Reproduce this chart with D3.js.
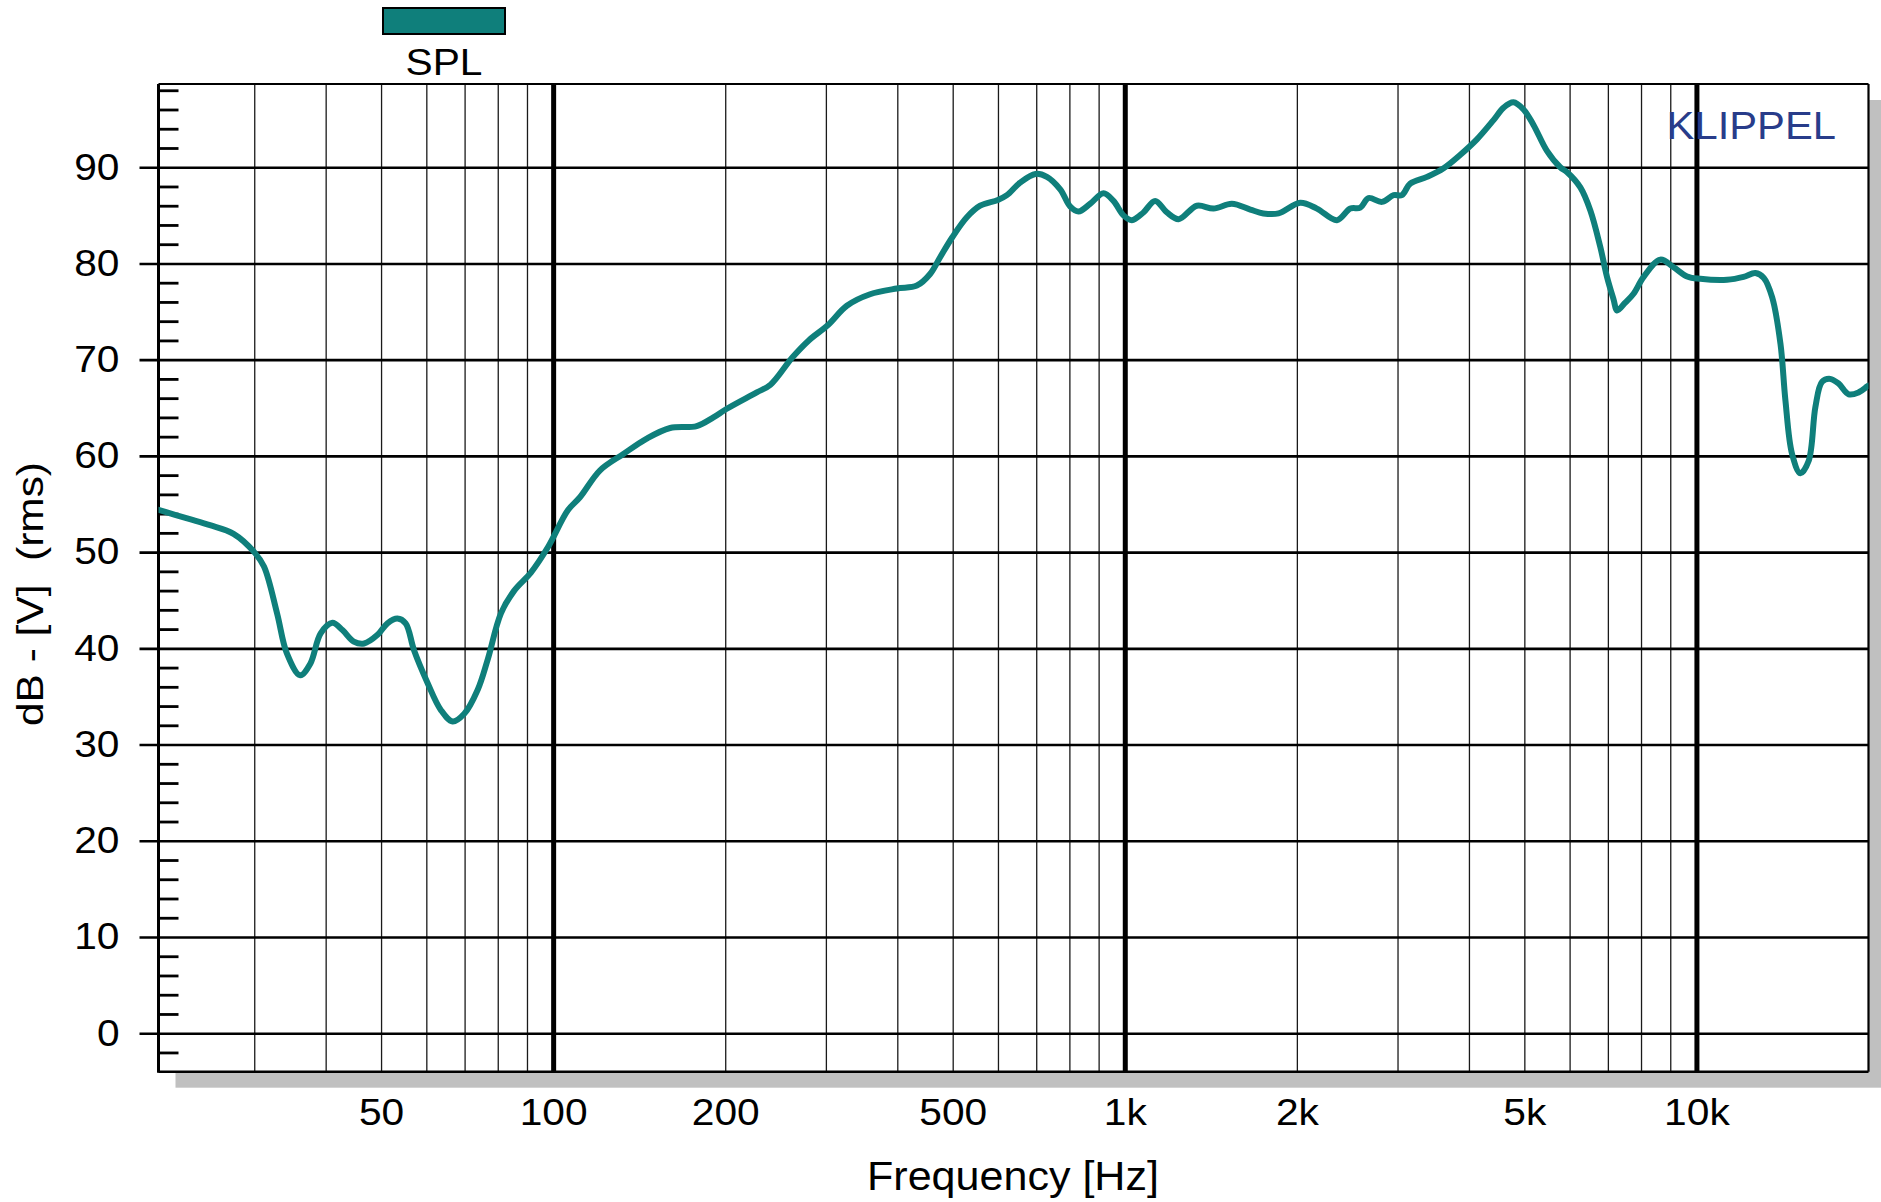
<!DOCTYPE html>
<html><head><meta charset="utf-8">
<script src="https://cdn.jsdelivr.net/npm/d3@7"></script>
<style>html,body{margin:0;padding:0;background:#fff;} svg{display:block;font-family:"Liberation Sans",Arial,Helvetica,sans-serif;}</style>
</head><body><svg id="c" width="1881" height="1202"></svg>
<script>
// ---- data ----
const freq = [20.4,22.9,25.1,27.6,30.0,31.2,32.9,34.2,36.1,37.6,39.2,41.1,42.8,44.8,46.7,49.3,51.3,53.4,55.2,57.1,60.3,63.6,66.7,69.9,73.8,76.8,81.0,85.5,91.5,97.9,106.1,111.4,120.8,132.7,145.8,160.2,178.3,190.7,201.3,227.1,240,261.8,280,302.6,326.4,358.4,399.3,432.8,456.5,475.3,498.9,529.3,558.5,599.8,622,656,698,730.6,771,802.9,829.9,869.9,917.9,955.5,994.7,1029,1078,1130,1185,1242,1337,1430,1539,1658,1748,1858,2027,2168,2350,2480,2582,2669,2818,2953,3053,3157,3378,3612,3864,4130,4416,4600,4786,4984,5188,5477,5778,5935,6265,6523,6790,6976,7167,7263,7500,7763,8085,8648,9125,9632,10160,11316,12093,12680,13120,13565,14030,14310,14700,15200,15720,16150,16590,17150,17740,18470,19220,19880,20000];
const spl = [54.4,53.5,52.8,51.9,50.0,48.5,43.6,39.5,37.2,38.4,41.55,42.65,41.9,40.7,40.5,41.4,42.6,43.1,42.6,39.8,36.4,33.6,32.4,33.2,35.7,38.8,43.6,46.0,47.9,50.5,54.35,55.7,58.5,60.2,61.8,62.9,63.1,64.0,64.9,66.6,67.4,70.2,72.0,73.6,75.6,76.8,77.4,77.7,78.9,80.65,82.7,84.8,86.0,86.6,87.1,88.4,89.3,89.0,87.7,85.9,85.4,86.2,87.3,86.5,85.0,84.5,85.3,86.5,85.3,84.6,86.0,85.7,86.2,85.6,85.2,85.2,86.3,85.7,84.5,85.7,85.8,86.8,86.4,87.1,87.1,88.3,89.0,89.9,91.3,92.9,94.9,96.2,96.75,96.0,94.4,91.7,90.0,89.5,87.9,85.5,81.7,78.6,76.2,75.1,75.9,76.85,78.6,80.4,79.6,78.65,78.4,78.3,78.6,79.0,78.5,76.5,71.65,65.8,60.2,58.2,59.5,65.1,67.7,68.0,67.5,66.4,66.6,67.2,67.3];
const xTickValues = [50,100,200,500,1000,2000,5000,10000];
const xTickLabels = ["50","100","200","500","1k","2k","5k","10k"];
const xMinorGrid = [30,40,50,60,70,80,90,200,300,400,500,600,700,800,900,2000,3000,4000,5000,6000,7000,8000,9000];
const xMajorGrid = [100,1000,10000];
const yTickValues = [0,10,20,30,40,50,60,70,80,90];
const yMinorTicks = [-2,2,4,6,8,12,14,16,18,22,24,26,28,32,34,36,38,42,44,46,48,52,54,56,58,62,64,66,68,72,74,76,78,82,84,86,88,92,94,96,98];
const seriesName = "SPL";
const xTitle = "Frequency [Hz]";
const yTitle = "dB - [V]\u00a0\u00a0(rms)";
const brand = "KLIPPEL";

// ---- layout ----
const L=158.5, R=1868.5, T=84, B=1071.7;
const teal = "#0f7f7b";
const FONT = '"Liberation Sans",Arial,sans-serif';
const x = d3.scaleLog().domain([20.4,20000]).range([L,R]);
const y = d3.scaleLinear().domain([-4,98.65]).range([B,T]);
const svg = d3.select('#c');
svg.append('rect').attr('width',1881).attr('height',1202).attr('fill','#fff');

function stretch(sel,k){sel.each(function(){const w=this.getComputedTextLength();this.setAttribute('textLength',w*k);this.setAttribute('lengthAdjust','spacingAndGlyphs');});}

// shadow + plot bg
svg.append('rect').attr('x',L+17).attr('y',T+16).attr('width',R-L).attr('height',B-T).attr('fill','#c0c0c0');
svg.append('rect').attr('x',L).attr('y',T).attr('width',R-L).attr('height',B-T).attr('fill','#fff');

// vertical minor grid
const gx = svg.append('g').attr('transform',`translate(0,${B})`)
  .call(d3.axisBottom(x).tickValues(xMinorGrid).tickSize(-(B-T)).tickFormat(''));
gx.select('.domain').remove();
gx.selectAll('line').attr('stroke','#1a1a1a').attr('stroke-width',1.3);

// horizontal major grid + labels
const gy = svg.append('g').attr('transform',`translate(${L-19},0)`)
  .call(d3.axisLeft(y).tickValues(yTickValues).tickSizeInner(-(R-L+19)).tickSizeOuter(0).tickPadding(20));
gy.select('.domain').remove();
gy.selectAll('line').attr('stroke','#000').attr('stroke-width',2.6);
gy.selectAll('text').attr('font-size',37).attr('fill','#000').attr('font-family',FONT).call(stretch,1.1);

// bold decade lines
const gb = svg.append('g').attr('transform',`translate(0,${B})`)
  .call(d3.axisBottom(x).tickValues(xMajorGrid).tickSize(-(B-T)).tickFormat(''));
gb.select('.domain').remove();
gb.selectAll('line').attr('stroke','#000').attr('stroke-width',5);

// y minor ticks
const gm = svg.append('g').attr('transform',`translate(${L},0)`)
  .call(d3.axisLeft(y).tickValues(yMinorTicks).tickSizeInner(-20).tickSizeOuter(0).tickFormat(''));
gm.select('.domain').remove();
gm.selectAll('line').attr('stroke','#000').attr('stroke-width',2.8);

// x tick labels
const gl = svg.append('g').attr('transform',`translate(0,${B})`)
  .call(d3.axisBottom(x).tickValues(xTickValues).tickFormat((d,i)=>xTickLabels[i]).tickSize(0).tickPadding(27));
gl.select('.domain').remove();
gl.selectAll('text').attr('font-size',37).attr('fill','#000').attr('font-family',FONT).call(stretch,1.1);

// border
svg.append('line').attr('x1',L).attr('x2',R).attr('y1',T).attr('y2',T).attr('stroke','#000').attr('stroke-width',1.8);
svg.append('line').attr('x1',L).attr('x2',R).attr('y1',B).attr('y2',B).attr('stroke','#000').attr('stroke-width',2.5);
svg.append('line').attr('x1',R).attr('x2',R).attr('y1',T).attr('y2',B).attr('stroke','#000').attr('stroke-width',2.2);
svg.append('line').attr('x1',L).attr('x2',L).attr('y1',T).attr('y2',B+1).attr('stroke','#000').attr('stroke-width',3);

// curve
svg.append('clipPath').attr('id','pc').append('rect').attr('x',L).attr('y',T).attr('width',R-L).attr('height',B-T);
const data = freq.map((f,i)=>[f,spl[i]]);
svg.append('path').datum(data).attr('clip-path','url(#pc)')
  .attr('d',d3.line().x(d=>x(d[0])).y(d=>y(d[1])).curve(d3.curveCatmullRom.alpha(0.5)))
  .attr('fill','none').attr('stroke',teal).attr('stroke-width',6).attr('stroke-linejoin','round').attr('stroke-linecap','round');

// KLIPPEL
svg.append('text').attr('x',1836).attr('y',139).attr('text-anchor','end').attr('font-size',39).attr('fill','#283c8a').attr('font-family',FONT).text(brand).call(stretch,1.07);

// legend
svg.append('rect').attr('x',383).attr('y',8).attr('width',122).attr('height',26).attr('fill',teal).attr('stroke','#000').attr('stroke-width',2);
svg.append('text').attr('x',444).attr('y',75).attr('text-anchor','middle').attr('font-size',37).attr('fill','#000').attr('font-family',FONT).text(seriesName).call(stretch,1.1);

// axis titles
svg.append('text').attr('x',1013).attr('y',1190).attr('text-anchor','middle').attr('font-size',41).attr('fill','#000').attr('font-family',FONT).text(xTitle).call(stretch,1.05);
svg.append('text').attr('transform','translate(43,594) rotate(-90)').attr('text-anchor','middle').attr('font-size',37).attr('fill','#000').attr('font-family',FONT).attr('textLength',264).attr('lengthAdjust','spacingAndGlyphs').text(yTitle);
</script></body></html>
